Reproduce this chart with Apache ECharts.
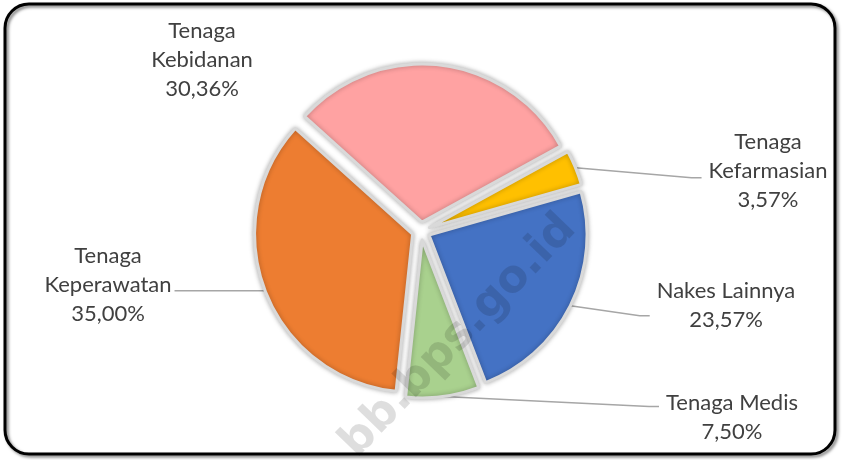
<!DOCTYPE html>
<html lang="id">
<head>
<meta charset="UTF-8">
<title>Tenaga Kesehatan</title>
<script src="https://cdn.jsdelivr.net/npm/echarts@6/dist/echarts.min.js"></script>
<style>html,body{margin:0;background:#fff}</style>
</head>
<body>
<div id="chart" style="width:842px;height:460px;"></div>
<script>
  // data, clockwise from the top-left
  var categories = ['Tenaga Kebidanan', 'Tenaga Kefarmasian', 'Nakes Lainnya', 'Tenaga Medis', 'Tenaga Keperawatan']
  var labelLines = [['Tenaga', 'Kebidanan'], ['Tenaga', 'Kefarmasian'], ['Nakes Lainnya'], ['Tenaga Medis'], ['Tenaga', 'Keperawatan']]
  var values = [30.36, 3.57, 23.57, 7.50, 35.00]
  var colors = ['#FFA2A2', '#FFC000', '#4472C4', '#A9D18E', '#ED7D31']

  // where each label sits (center x, top y)
  var labelSpots = [[202, 20], [768, 131], [726, 280], [732, 392], [108, 245]]
  var labelFont = '22px Lato'
  var startAngle = 138
  var explode = 9

  function pct(v) {
    return v.toFixed(2).replace('.', ',') + '%'
  }
  function labelText(i) {
    return labelLines[i].concat([pct(values[i])])
  }

  // text widths, so the leader lines stop next to the words
  var ctx = document.createElement('canvas').getContext('2d')
  ctx.font = labelFont
  function textWidth(i) {
    return Math.max.apply(null, labelText(i).map(function (s) { return ctx.measureText(s).width }))
  }

  // exploded slices carry their label along, so take that shift back out
  var total = values.reduce(function (a, b) { return a + b }, 0)
  function explodeShift(i) {
    var before = 0
    for (var k = 0; k < i; k++) before += values[k]
    var mid = (startAngle - (before + values[i] / 2) / total * 360) * Math.PI / 180
    return [explode * Math.cos(mid), -explode * Math.sin(mid)]
  }

  var mCharts = echarts.init(document.getElementById('chart'))

  var pieData = categories.map(function (c, i) {
    var item = { name: c, value: values[i], selected: true, itemStyle: { color: colors[i] } }
    if (i === 0) item.labelLine = { show: false }
    return item
  })

  var option = {
    animation: false,
    graphic: [
      {
        type: 'rect',
        shape: { x: 5, y: 4, width: 830, height: 450, r: 24 },
        style: { fill: 'none', stroke: '#000', lineWidth: 3, shadowBlur: 3, shadowOffsetX: 2, shadowOffsetY: 2, shadowColor: 'rgba(0,0,0,0.5)' },
        z: 1
      },
      {
        type: 'text',
        x: 569, y: 222,
        rotation: 46 * Math.PI / 180,
        style: { text: 'bb.bps.go.id', font: 'bold 45px "DejaVu Sans"', fill: 'rgba(0,0,0,0.13)', align: 'right', verticalAlign: 'middle' },
        z: 100
      }
    ],
    series: [
      {
        type: 'pie',
        center: [421, 231],
        radius: 158,
        startAngle: startAngle,
        selectedMode: 'multiple',
        selectedOffset: explode,
        avoidLabelOverlap: false,
        silent: true,
        itemStyle: { borderColor: '#D9D9D9', borderWidth: 3, shadowBlur: 5, shadowColor: 'rgba(0,0,0,0.3)' },
        label: {
          position: 'outside',
          distanceToLabelLine: 0,
          formatter: function (p) {
            return labelText(p.dataIndex).map(function (s) { return '{t|' + s + '}' }).join('\n')
          },
          rich: {
            t: { width: 160, align: 'center', fontFamily: 'Lato', fontSize: 22, lineHeight: 29, color: '#404040' }
          }
        },
        labelLine: { show: true, lineStyle: { color: '#A6A6A6', width: 1.5 } },
        labelLayout: function (params) {
          var i = params.dataIndex
          var spot = labelSpots[i]
          var off = explodeShift(i)
          var r = params.labelRect
          var res = { dx: spot[0] - (r.x + r.width / 2) - off[0], dy: spot[1] - r.y - off[1] }
          var pts = params.labelLinePoints
          if (pts) {
            var start = pts[0]
            var half = textWidth(i) / 2
            var onLeft = spot[0] < start[0]
            var ex = onLeft ? spot[0] + half + 3 : spot[0] - half - 7
            var ey = Math.min(Math.max(start[1] + off[1] + (onLeft ? 0 : 10), spot[1] + 12), spot[1] + r.height - 12)
            ex -= off[0]
            ey -= off[1]
            res.labelLinePoints = [start, [ex + (onLeft ? 3 : -10), ey], [ex, ey]]
          }
          return res
        },
        data: pieData
      }
    ]
  }
  mCharts.setOption(option)
</script>
</body>
</html>
